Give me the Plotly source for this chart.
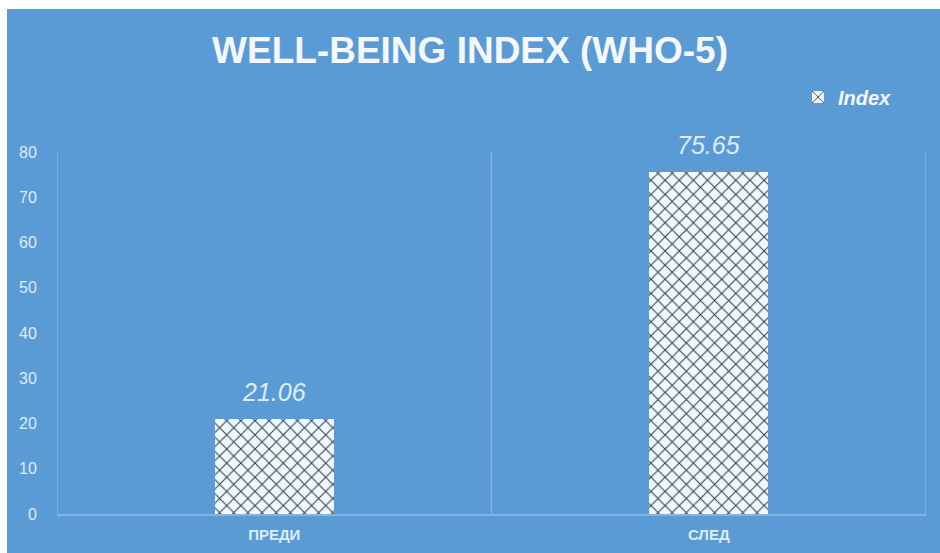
import plotly.graph_objects as go

categories = ["ПРЕДИ", "СЛЕД"]
values = [21.06, 75.65]
series_name = "Index"
y_ticks = [0, 10, 20, 30, 40, 50, 60, 70, 80]
title_text = "WELL-BEING INDEX (WHO-5)"

BLUE = "#5B9BD5"
GRID = "#83B5E3"
LABEL = "#DCEDF9"
FONT = "Liberation Sans, Arial"

x_pos = list(range(len(categories)))

fig = go.Figure()
fig.add_trace(go.Bar(
    x=x_pos, y=values, name=series_name, width=0.275,
    marker=dict(
        color="#EEF8FD",
        line=dict(width=0),
        pattern=dict(shape="x", fgcolor="#34404C", bgcolor="#EEF8FD",
                     size=10, solidity=0.2, fillmode="replace"),
    ),
    showlegend=True,
))

for xi, v in zip(x_pos, values):
    fig.add_annotation(
        x=xi, y=v, text=f"{v:.2f}", showarrow=False, yanchor="middle", yshift=27,
        font=dict(family=FONT, size=25, color=LABEL, style="italic"),
    )

# category boundary gridlines
bounds = [i - 0.5 for i in x_pos] + [x_pos[-1] + 0.5]
for b in bounds:
    fig.add_shape(type="line", xref="x", yref="y", x0=b, x1=b, y0=0, y1=max(y_ticks),
                  line=dict(color=GRID, width=1.5), layer="below")

# blue chart area (white strips on top/left)
L, R, T, B, W, H = 57, 14, 152, 39, 940, 553
pw, ph = W - L - R, H - T - B
fig.add_shape(type="rect", xref="paper", yref="paper",
              x0=(7 - L) / pw, x1=(W - L) / pw + 0.01,
              y0=-(B + 5) / ph, y1=(H - B - 9) / ph,
              fillcolor=BLUE, line=dict(width=0), layer="below")

fig.update_layout(
    width=W, height=H,
    margin=dict(l=L, r=R, t=T, b=B, autoexpand=False),
    paper_bgcolor="white",
    plot_bgcolor="rgba(0,0,0,0)",
    title=dict(text=f"<b>{title_text}</b>", x=0.5, xanchor="center",
               y=1 - 50 / H, yanchor="middle",
               font=dict(family=FONT, size=37, color="#F4F8FC")),
    legend=dict(x=(897 - L) / pw, xanchor="right", y=(H - B - 97) / ph, yanchor="middle",
                bgcolor="rgba(0,0,0,0)",
                font=dict(family=FONT, size=20, color="#F4F8FC", style="italic", weight="bold")),
    xaxis=dict(range=[-0.5, len(categories) - 0.5], tickvals=x_pos, ticktext=categories,
               showgrid=False, zeroline=False, showline=True, linecolor=GRID, linewidth=1.5,
               ticks="outside", ticklen=6, tickcolor="rgba(0,0,0,0)", automargin=False,
               tickfont=dict(family=FONT, size=15, color=LABEL, weight="bold"),
               fixedrange=True),
    yaxis=dict(range=[0, max(y_ticks)], tickvals=y_ticks, showgrid=False, zeroline=False,
               showline=False, ticks="outside", ticklen=16, tickcolor="rgba(0,0,0,0)",
               automargin=False,
               tickfont=dict(family=FONT, size=16, color=LABEL),
               fixedrange=True),
    bargap=0,
)

fig.write_html("out.html")
